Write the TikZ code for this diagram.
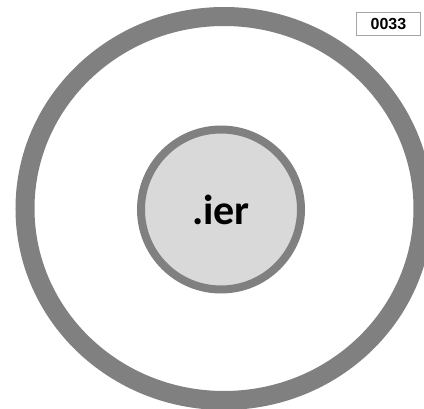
\documentclass[tikz,border=0pt]{standalone}
\usepackage{fontspec}
\setmainfont{Carlito}
\newfontfamily\tagfont{Liberation Sans}
\usepackage{xcolor}
\definecolor{ringGray}{HTML}{808080}
\definecolor{coreFill}{HTML}{D9D9D9}
\definecolor{tagGray}{HTML}{A6A6A6}
\begin{document}
\begin{tikzpicture}[
  x=1pt, y=-1pt,
  every node/.style={inner sep=0pt},
  core/.style={circle, draw=ringGray, line width=8pt, fill=coreFill,
               minimum size=160pt, font=\fontsize{42}{42}\selectfont\bfseries},
  tag/.style={rectangle, draw=tagGray, line width=1.4pt, fill=white,
              minimum width=64pt, minimum height=23pt,
              font=\tagfont\fontsize{16}{16}\selectfont\bfseries}
]
\useasboundingbox (0,0) rectangle (424,409);
\clip (0,0) rectangle (424,409);
% outer ring
\draw[ringGray, line width=19pt] (224,208.5) ellipse [x radius=199, y radius=192];
% centre and tag
\node[core] (core) at (221,209.5) {.ier};
\node[tag] (tag) at (388.5,24) {0033};
\end{tikzpicture}
\end{document}
